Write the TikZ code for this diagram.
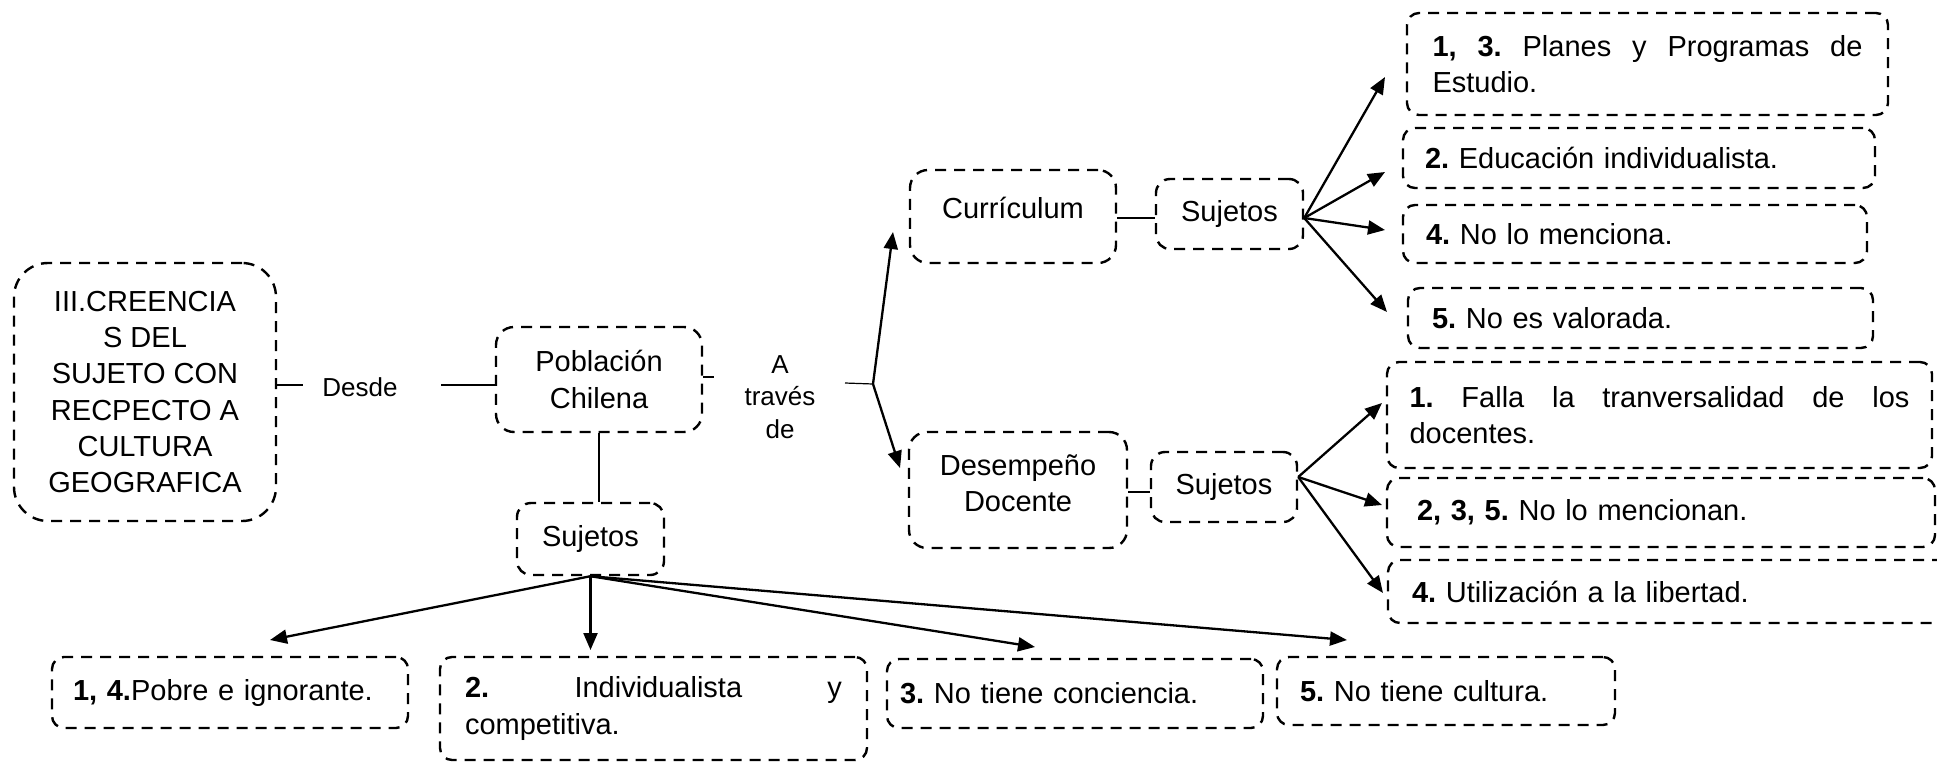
\documentclass[tikz,border=0pt]{standalone}
\usepackage{fontspec}
\setmainfont{Liberation Sans}
\usetikzlibrary{arrows.meta}
\frenchspacing
\newcommand\jline[2]{\hbox to #1{#2}}
\begin{document}
\begin{tikzpicture}[x=1pt,y=-1pt,
  font=\fontsize{29}{36.3}\selectfont,
  box/.style={draw, line width=2.4pt, dash pattern=on 11pt off 8pt, rounded corners=12pt, inner sep=0pt, align=left},
  lbl/.style={inner sep=0pt, font=\fontsize{26}{32.5}\selectfont, align=center},
  conn/.style={line width=1.2pt},
  arr/.style={line width=2.3pt, -{Triangle[length=17pt,width=14pt]}}]
\clip (0,0) rectangle (1937,764);
\fill[white] (0,0) rectangle (1937,764);

% left part
\node[box, rounded corners=34pt, minimum width=262pt, minimum height=258pt, align=center] (main) at (145,392)
  {III.CREENCIA\\S DEL\\SUJETO CON\\RECPECTO A\\CULTURA\\GEOGRAFICA};
\node[lbl] (desde) at (360,387) {Desde};
\node[box, rounded corners=18pt, minimum width=206pt, minimum height=105pt, align=center] (pob) at (599,379.5) {Población\\Chilena};
\node[box, rounded corners=14pt, minimum width=147pt, minimum height=72pt, align=center] (suj0) at (590.5,539) {Sujetos};
\node[lbl] (atr) at (780,397) {A\\través\\de};

% middle part
\node[box, rounded corners=18pt, minimum width=206pt, minimum height=93pt,
  label={[yshift=9pt]center:Currículum}] (curr) at (1013,216.5) {};
\node[box, rounded corners=14pt, minimum width=147pt, minimum height=70pt, align=center] (suj1) at (1229.5,214) {Sujetos};
\node[box, rounded corners=18pt, minimum width=218pt, minimum height=116pt,
  label={[yshift=6.5pt, align=center]center:Desempeño\\Docente}] (desem) at (1018,490) {};
\node[box, rounded corners=14pt, minimum width=146pt, minimum height=70pt, align=center] (suj2) at (1224,487) {Sujetos};

% right column (Currículum)
\node[box, minimum width=481pt, minimum height=102pt, text width=430pt] (r1) at (1647.5,64)
  {\jline{430pt}{\textbf{1,}\hfill\textbf{3.}\hfill Planes\hfill y\hfill Programas\hfill de}\\Estudio.};
\node[box, minimum width=472pt, minimum height=60pt, text width=428pt] (r2) at (1639,158)
  {\textbf{2.} Educación individualista.};
\node[box, minimum width=464pt, minimum height=58pt, text width=418pt] (r3) at (1635,234)
  {\textbf{4.} No lo menciona.};
\node[box, minimum width=465pt, minimum height=60pt, text width=417pt] (r4) at (1640.5,318)
  {\textbf{5.} No es valorada.};

% right column (Desempeño)
\node[box, minimum width=545pt, minimum height=106pt, text width=500pt] (s1) at (1659.5,415)
  {\jline{500pt}{\textbf{1.}\hfill Falla\hfill la\hfill tranversalidad\hfill de\hfill los}\\docentes.};
\node[box, minimum width=548pt, minimum height=69pt, text width=488pt] (s2) at (1661,512.5)
  {\textbf{2, 3, 5.} No lo mencionan.};
\node[box, minimum width=567pt, minimum height=63pt, text width=519pt] (s3) at (1671.5,591.5)
  {\textbf{4.} Utilización a la libertad.};

% bottom row
\node[box, minimum width=356pt, minimum height=71pt, text width=314pt] (b1) at (230,692.5)
  {\textbf{1, 4.}Pobre e ignorante.};
\node[box, minimum width=427pt, minimum height=103pt, text width=377pt] (b2) at (653.5,708.5)
  {\jline{377pt}{\textbf{2.}\hfill Individualista\hfill y}\\competitiva.};
\node[box, minimum width=376pt, minimum height=69pt, text width=350pt] (b3) at (1075,693.5)
  {\textbf{3.} No tiene conciencia.};
\node[box, minimum width=338pt, minimum height=68pt, text width=292pt] (b4) at (1446,691)
  {\textbf{5.} No tiene cultura.};

% free ends
\coordinate (d1) at (303,385);
\coordinate (d2) at (441,385);
\coordinate (a1) at (714,377);
\coordinate (a2) at (845,383);
\coordinate (br) at (873,384);
\coordinate (tc) at (893,232);
\coordinate (td) at (900,468);
\coordinate (tra) at (1385,77);
\coordinate (trb) at (1385,172);
\coordinate (trc) at (1385,230);
\coordinate (trd) at (1387,312);
\coordinate (tsa) at (1382,403);
\coordinate (tsb) at (1382,505);
\coordinate (tsc) at (1383,593);
\coordinate (tba) at (270,640);
\coordinate (tbb) at (590.5,650);
\coordinate (tbc) at (1035,647);
\coordinate (tbd) at (1347,640);

% thin connectors
\draw[conn] (main.east |- d1) -- (d1);
\draw[conn] (d2) -- (d2 -| pob.west);
\draw[conn] (pob.east |- a1) -- (a1);
\draw[conn] (a2) -- (br);
\draw[conn] (pob.south) -- (pob.south |- suj0.north);
\draw[conn] ([yshift=-4pt]suj1.west -| curr.east) -- ([yshift=-4pt]suj1.west);
\draw[conn] ([yshift=-5pt]suj2.west -| desem.east) -- ([yshift=-5pt]suj2.west);

% arrows
\draw[arr] (br) -- (tc);
\draw[arr] (br) -- (td);
\foreach \t in {tra,trb,trc,trd} \draw[arr] ([yshift=-4pt]suj1.east) -- (\t);
\foreach \t in {tsa,tsb,tsc} \draw[arr] ([yshift=10pt]suj2.east) -- (\t);
\foreach \t in {tba,tbb,tbc,tbd} \draw[arr] (suj0.south) -- (\t);
\end{tikzpicture}
\end{document}
